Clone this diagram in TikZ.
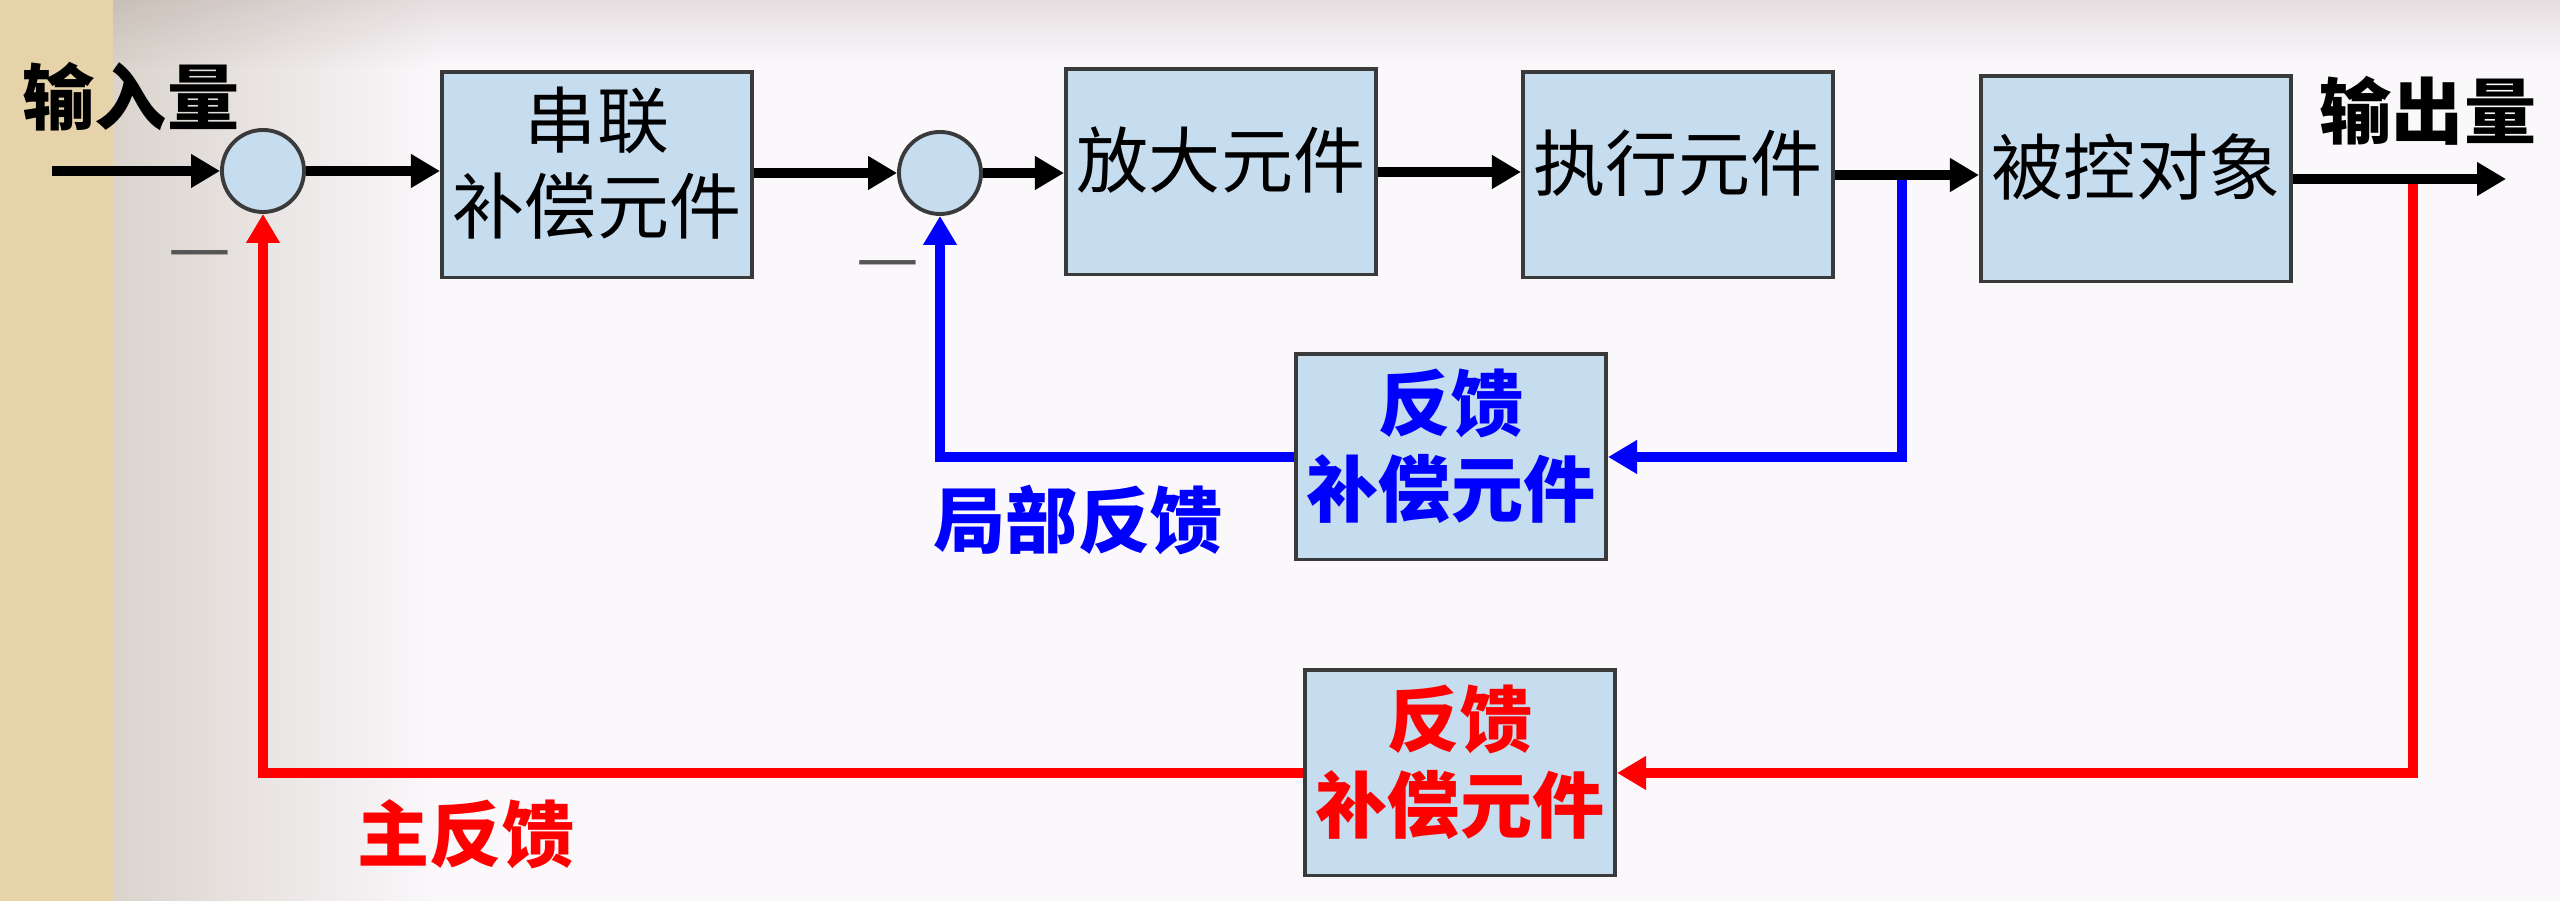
\documentclass[tikz,border=0pt]{standalone}
\usepackage{fontspec}
\usepackage{xcolor}
\usepackage{tikz}
\usetikzlibrary{arrows.meta,positioning}
\newfontfamily\cjk{Noto Sans CJK SC}
\definecolor{boxfill}{HTML}{C6DCEF}
\definecolor{boxline}{HTML}{3A3A3A}
\definecolor{bgwhite}{HTML}{FBF8FC}
\definecolor{bggrey}{HTML}{DAD4CD}
\definecolor{bgtop}{HTML}{EAE6E4}
\definecolor{paper}{HTML}{E6D3AA}
\definecolor{minusgrey}{HTML}{555555}
\newcommand{\cnfont}{\cjk\fontsize{20.5}{24.5}\selectfont}

\begin{document}
\begin{tikzpicture}[
    x=0.01cm, y=-0.01cm,
    box/.style={draw=boxline, line width=1.1pt, fill=boxfill,
                minimum width=3.1cm, minimum height=2.05cm,
                inner sep=0pt, text depth=0.29cm, font=\cnfont, align=center},
    fbbox/.style={box, font=\cnfont\bfseries},
    sum/.style={draw=boxline, line width=1.1pt, circle, fill=boxfill,
                minimum size=0.82cm, inner sep=0pt},
    arr/.style={-{Triangle[length=0.29cm, width=0.32cm]}, line width=2.6pt},
    lbl/.style={font=\cnfont\bfseries},
    minus/.style={font=\cjk\fontsize{20}{20}\selectfont, text=minusgrey}
]
\useasboundingbox (0,0) rectangle (2560,901);

% ── Background ──
\fill[bgwhite] (0,0) rectangle (2560,901);
\shade[left color=bggrey, right color=bgwhite] (113,0) rectangle (440,901);
\begin{scope}[blend mode=multiply]
\shade[top color=bgtop, bottom color=white] (113,0) rectangle (2560,70);
\end{scope}
\fill[paper] (0,0) rectangle (113,901);

% ── Forward path ──
\coordinate (in) at (52,171);
\node[sum] (sum1) at (263,171) {};
\node[box] (series) at (597,175) {串联\\补偿元件};
\node[sum] (sum2) at (940,173) {};
\node[box] (amp) at (1221,172) {放大元件};
\node[box] (act) at (1678,175) {执行元件};
\node[box] (plant) at (2136,179) {被控对象};
\coordinate (out) at (2506,179);

\node[lbl] (inlbl) at (131,97) {输入量};
\node[lbl] (outlbl) at (2428,111) {输出量};
\node[minus] (neg1) at (200,262) {—};
\node[minus] (neg2) at (888,272) {—};

% ── Feedback blocks ──
\node[fbbox, text=blue] (lfb) at (1451,457) {反馈\\补偿元件};
\node[fbbox, text=red] (mfb) at (1460,773) {反馈\\补偿元件};
\node[lbl, text=blue] (loclbl) at (1078,520) {局部反馈};
\node[lbl, text=red] (mainlbl) at (466,834) {主反馈};

\coordinate (tapL) at (1902,175);
\coordinate (tapM) at (2413,179);

% ── Local feedback ──
\draw[arr, blue] (tapL) |- (lfb);
\draw[arr, blue] (lfb) -| (sum2);

% ── Main feedback ──
\draw[arr, red] (tapM) |- (mfb);
\draw[arr, red] (mfb) -| (sum1);

\draw[arr] (in) -- (sum1);
\draw[arr] (sum1) -- (sum1 -| series.west);
\draw[arr] (series.east |- sum2) -- (sum2);
\draw[arr] (sum2) -- (sum2 -| amp.west);
\draw[arr] (amp) -- (amp -| act.west);
\draw[arr] (act) -- (act -| plant.west);
\draw[arr] (plant) -- (out);

\end{tikzpicture}
\end{document}
